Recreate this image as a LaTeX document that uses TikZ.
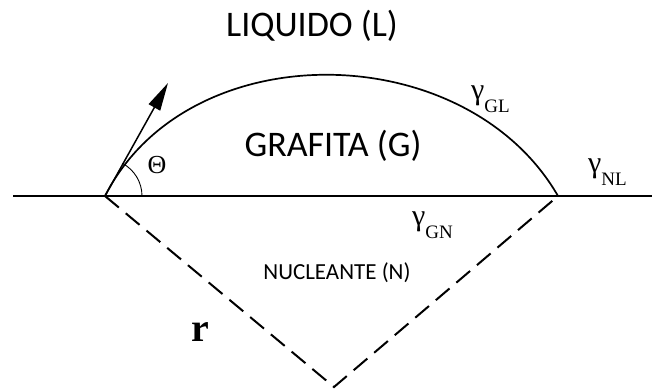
\documentclass[tikz,border=0pt]{standalone}
\usepackage{fontspec}
\setmainfont{Carlito}
\newfontfamily\timesf{Liberation Serif}
\usetikzlibrary{arrows.meta}
\newcommand{\gten}[1]{γ\raisebox{-13pt}{\fontsize{19}{19}\selectfont #1}}

\begin{document}
\begin{tikzpicture}[x=1pt, y=1pt, >={Triangle[length=28pt, width=13pt]},
          every node/.style={inner sep=0pt},
          phase/.style={anchor=base, font=\fontsize{36}{36}\selectfont},
          gamlabel/.style={anchor=base west, font=\timesf\fontsize{30}{30}\selectfont},
          surface/.style={line width=1.9pt},
          dashside/.style={dash pattern=on 18pt off 9pt, line width=2pt}]
        \useasboundingbox (0,0) rectangle (652,390);
        % contact points, tip of the arrow and bottom corner
        \coordinate (left)  at (105,194);
        \coordinate (right) at (558,194);
        \coordinate (start) at (13,194);
        \coordinate (end)   at (652,194);
        \coordinate (tip)   at (168,307);
        \coordinate (apex)  at (334,3);
        \draw[surface] (start) -- (end);
        \draw[line width=1.7pt] (left) .. controls +(63:184) and +(120:184) .. (right);
        \draw[->, line width=1.5pt] (left) -- (tip);
        \draw[line width=0.9pt] (left) ++(37,0) arc[start angle=0, end angle=62, radius=37];
        \draw[dashside] (left) -- (apex) -- (right);
        % labels
        \node[phase] (liq) at (312,353) {LIQUIDO (L)};
        \node[phase] (gra) at (333,233) {GRAFITA (G)};
        \node[anchor=base, font=\fontsize{23}{23}\selectfont] (nuc) at (337,110) {NUCLEANTE (N)};
        \node[anchor=base, font=\timesf\fontsize{26}{26}\selectfont] (theta) at (157,216) {Θ};
        \node[gamlabel] (gl) at (471,290) {\gten{GL}};
        \node[gamlabel] (nl) at (588,217) {\gten{NL}};
        \node[gamlabel] (gn) at (412,164) {\gten{GN}};
        \node[anchor=base west, font=\timesf\bfseries\fontsize{40}{40}\selectfont] (rad) at (191,48) {r};
      \end{tikzpicture}
\end{document}
